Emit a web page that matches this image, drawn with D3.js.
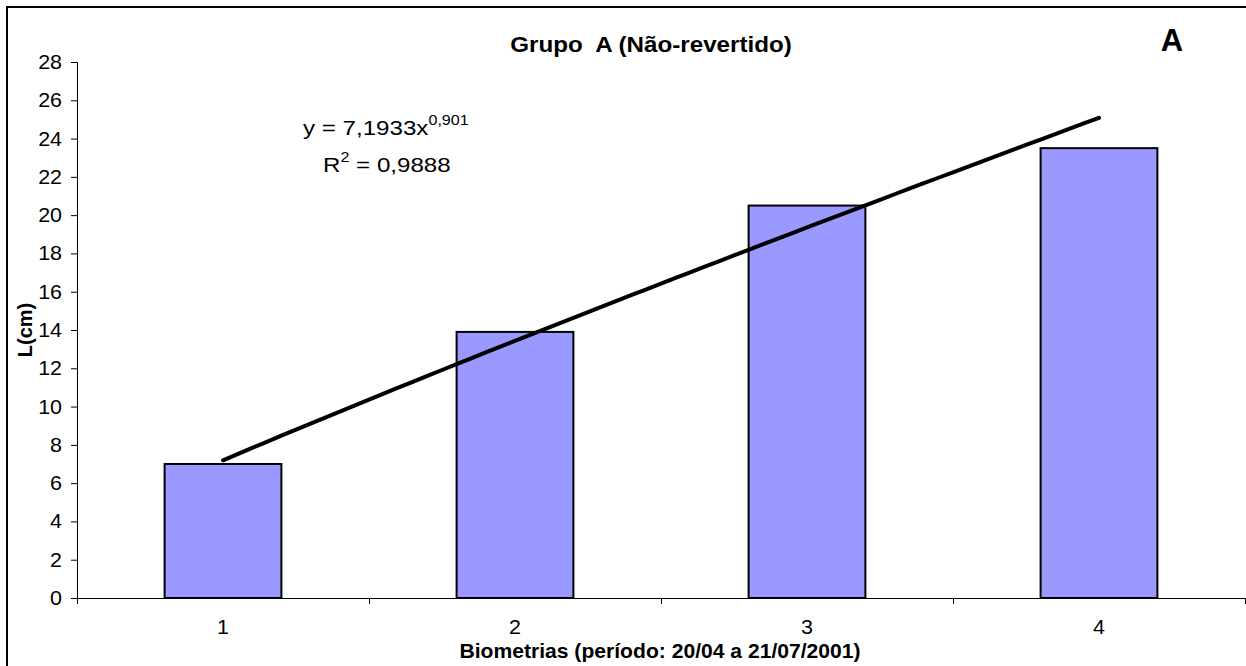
<!DOCTYPE html>
<html>
<head>
<meta charset="utf-8">
<script src="https://cdn.jsdelivr.net/npm/d3@7"></script>
<style>
  html, body { margin: 0; padding: 0; background: #fff; }
  svg { display: block; font-family: "Liberation Sans", Arial, sans-serif; }
  text { white-space: pre; }
</style>
</head>
<body>
<svg id="chart" width="1246" height="666"></svg>
<script>
const categories = ["1", "2", "3", "4"];
const values = [7.0, 13.9, 20.5, 23.5];
const yTicks = [0, 2, 4, 6, 8, 10, 12, 14, 16, 18, 20, 22, 24, 26, 28];
const trendCoef = [7.1933, 0.901]; // y = a * x^b (shown power trendline)
const titleText = "Grupo  A (Não-revertido)";
const panelLabel = "A";
const xTitle = "Biometrias (período: 20/04 a 21/07/2001)";
const yTitle = "L(cm)";

const svg = d3.select("#chart");
const plot = { left: 77, right: 1245, top: 62, bottom: 598 };

function stext(x, yy, opts) {
  const o = Object.assign({ sx: 1, anchor: "middle", size: 19, weight: "normal", rotate: 0 }, opts || {});
  return svg.append("text")
    .attr("transform", `translate(${x},${yy})` + (o.rotate ? ` rotate(${o.rotate})` : "") + ` scale(${o.sx},1)`)
    .attr("text-anchor", o.anchor)
    .attr("font-size", o.size)
    .attr("font-weight", o.weight)
    .attr("fill", "#000");
}

// outer frame
svg.append("rect")
  .attr("x", 7).attr("y", 7).attr("width", 1270).attr("height", 700)
  .attr("fill", "none").attr("stroke", "#000").attr("stroke-width", 2);

const y = d3.scaleLinear().domain([0, 28]).range([plot.bottom, plot.top]);
const x = d3.scaleBand().domain(categories).range([plot.left, plot.right])
  .paddingInner(0.6).paddingOuter(0.3);
const xNum = d3.scaleLinear().domain([0.5, categories.length + 0.5]).range([plot.left, plot.right]);

// bars
svg.append("g").selectAll("rect").data(values).join("rect")
  .attr("x", (d, i) => x(categories[i]))
  .attr("y", d => y(d))
  .attr("width", x.bandwidth())
  .attr("height", d => y(0) - y(d))
  .attr("fill", "#9999FF")
  .attr("stroke", "#000")
  .attr("stroke-width", 2);

// y axis
const yAxis = d3.axisLeft(y).tickValues(yTicks).tickSize(6).tickFormat("");
const gy = svg.append("g").attr("transform", `translate(${plot.left},0)`).call(yAxis);
gy.select(".domain").attr("stroke", "#000").attr("d", `M-6,${plot.top + 0.5}H0.5V${plot.bottom}`);
gy.selectAll(".tick line").attr("stroke", "#000");
yTicks.forEach(t => {
  stext(plot.left - 15, y(t) + 7, { anchor: "end", size: 19.5, sx: 1.1 }).text(d3.format("d")(t));
});

// x axis (boundary ticks)
const xb = d3.scaleLinear().domain([0, categories.length]).range([plot.left, plot.right]);
const xAxis = d3.axisBottom(xb).ticks(categories.length).tickSize(6).tickFormat("");
const gx = svg.append("g").attr("transform", `translate(0,${plot.bottom})`).call(xAxis);
gx.select(".domain").attr("stroke", "#000").attr("d", `M${plot.left},0.5H${plot.right}`);
gx.selectAll(".tick line").attr("stroke", "#000");

// x category labels
categories.forEach(c => {
  stext(x(c) + x.bandwidth() / 2, 634, { size: 19.5, sx: 1.1 }).text(c);
});

// trendline from stated equation
const tx = d3.range(1, 4.0001, 0.05);
const line = d3.line().x(d => xNum(d)).y(d => y(trendCoef[0] * Math.pow(d, trendCoef[1])));
svg.append("path").datum(tx).attr("d", line)
  .attr("fill", "none").attr("stroke", "#000").attr("stroke-width", 4).attr("stroke-linecap", "round");

// equation text
const eq1 = stext(303, 135, { anchor: "start", size: 21, sx: 1.15 });
eq1.append("tspan").text("y = 7,1933x");
eq1.append("tspan").attr("font-size", 14).attr("dy", -10).text("0,901");
const eq2 = stext(323, 172, { anchor: "start", size: 21, sx: 1.15 });
eq2.append("tspan").text("R");
eq2.append("tspan").attr("font-size", 14).attr("dy", -10).text("2");
eq2.append("tspan").attr("dy", 10).text(" = 0,9888");

// titles
stext(651, 52, { size: 22, weight: "bold", sx: 1.1 }).text(titleText);
stext(1172, 51, { size: 31, weight: "bold" }).text(panelLabel);
stext(660, 658, { size: 20.5, weight: "bold", sx: 1.03 }).text(xTitle);
stext(32, 330, { size: 20, weight: "bold", rotate: -90 }).text(yTitle);
</script>
</body>
</html>
